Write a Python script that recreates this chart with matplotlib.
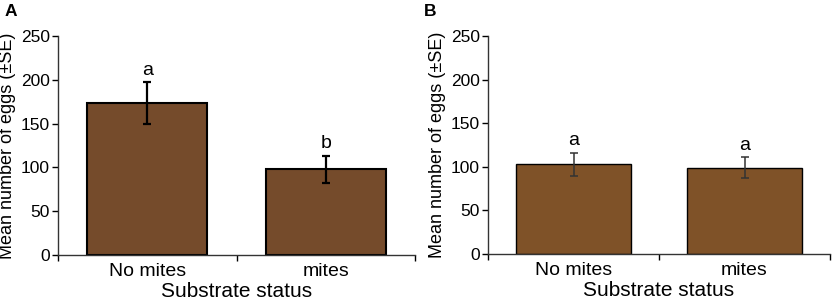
import matplotlib.pyplot as plt

plt.rcParams['font.family'] = ['Liberation Sans', 'DejaVu Sans']

categories = ["No mites", "mites"]
means_a = [173, 98]
se_a = [24, 15.5]
letters_a = ["a", "b"]
means_b = [103, 99]
se_b = [13, 12]
letters_b = ["a", "a"]

W, H = 832, 306
fig = plt.figure(figsize=(W / 100, H / 100), dpi=100)


def panel(rect, means, se, letters, color, ecolor, elw, blw, tag, tag_x):
    ax = fig.add_axes(rect)
    x = range(len(categories))
    ax.bar(x, means, width=0.67, color=color, edgecolor="black", linewidth=blw,
           yerr=se, ecolor=ecolor, capsize=3, error_kw={"elinewidth": elw, "capthick": elw})
    for i, (m, s, t) in enumerate(zip(means, se, letters)):
        ax.text(i, m + s + 4, t, ha="center", va="bottom", fontsize=14)
    ax.set_xlim(-0.5, 1.5)
    ax.set_ylim(0, 250)
    ax.set_yticks([0, 50, 100, 150, 200, 250])
    ax.set_xticks(list(x))
    ax.set_xticklabels(categories, fontsize=14)
    ax.tick_params(axis="x", length=0, pad=6)
    ax.set_xticks([-0.5, 0.5, 1.5], minor=True)
    ax.tick_params(axis="x", which="minor", length=4, width=1)
    ax.tick_params(axis="y", labelsize=12.5, length=4, width=1, pad=2)
    for s in ["top", "right"]:
        ax.spines[s].set_visible(False)
    for s in ["left", "bottom"]:
        ax.spines[s].set_color("#333333")
        ax.spines[s].set_linewidth(1)
    ax.set_xlabel("Substrate status", fontsize=15, labelpad=1)
    ax.set_ylabel("Mean number of eggs (\u00b1SE)", fontsize=13, labelpad=3)
    fig.text(tag_x / W, 1 - 11 / H, tag, fontsize=12.5, fontweight="bold", va="center")
    return ax


panel([58 / W, 51 / H, 357 / W, 219 / H], means_a, se_a, letters_a,
      "#754B2B", "black", 1.6, 1.5, "A", 5)
panel([488 / W, 52 / H, 342 / W, 218 / H], means_b, se_b, letters_b,
      "#7F5228", "#333333", 1.1, 1.0, "B", 424)

fig.savefig("out.png", dpi=100)
